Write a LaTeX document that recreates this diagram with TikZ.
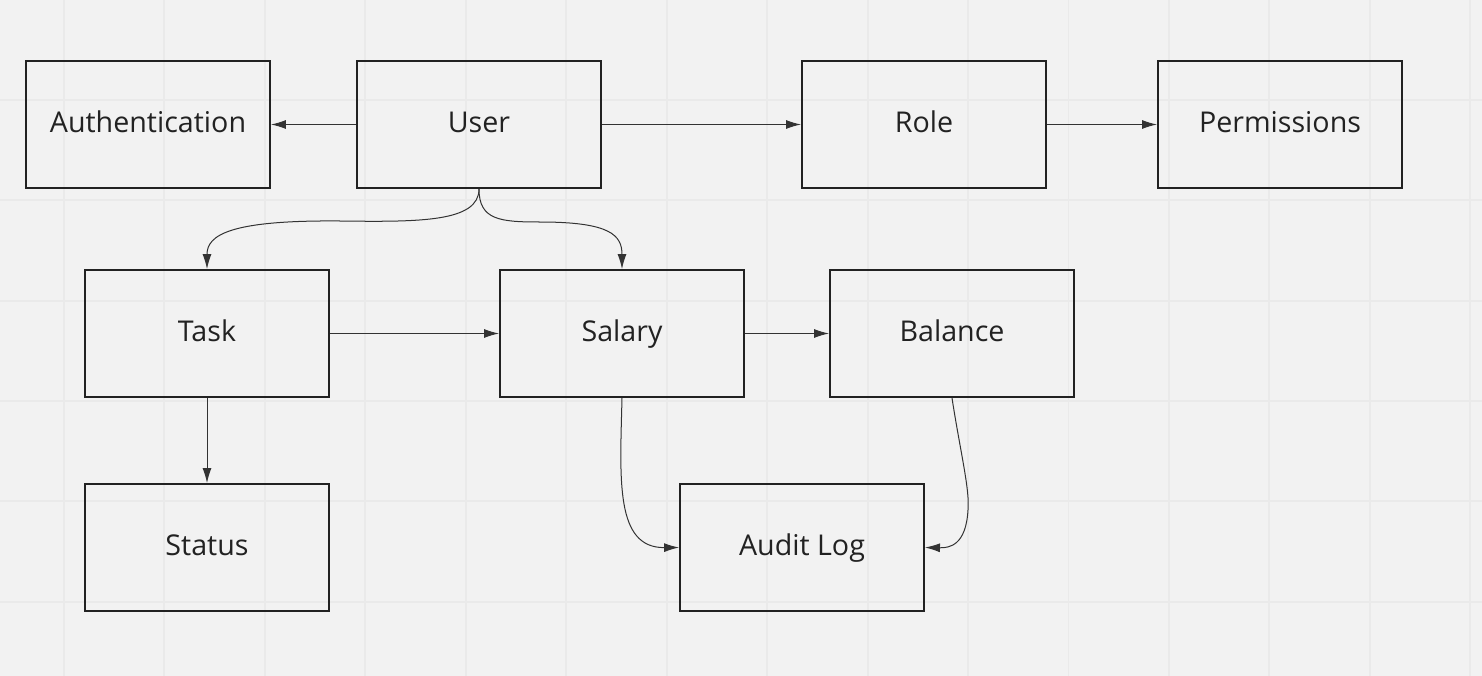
\documentclass[tikz,border=0pt]{standalone}
\usepackage{fontspec}
\setmainfont{Open Sans}
\usetikzlibrary{arrows.meta}
\definecolor{bg}{HTML}{F2F2F2}
\definecolor{gridline}{HTML}{EAEAEA}
\definecolor{ink}{HTML}{222222}
\definecolor{wire}{HTML}{333333}
\begin{document}
\begin{tikzpicture}[x=0.02cm,y=-0.02cm,
    every node/.style={draw=ink,line width=1.13pt,minimum width=4.88cm,minimum height=2.54cm,inner sep=0,
        text=ink,text height=12pt,text depth=2.4pt,font=\fontsize{16.3}{20}\selectfont},
    link/.style={draw=wire,line width=0.57pt,-{Latex[length=0.3cm,width=0.18cm]}}]
    \fill[bg] (0,0) rectangle (1482,676);
    \useasboundingbox (0,0) rectangle (1482,676);
    \foreach \k in {0,...,14} \draw[gridline,line width=1.1pt] (64+100.45*\k,0) -- (64+100.45*\k,676);
    \foreach \k in {1,...,6} \draw[gridline,line width=1.1pt] (0,-0.8+100.45*\k) -- (1482,-0.8+100.45*\k);
    \node at (148,124.5) (auth) {Authentication};
    \node at (479,124.5) (user) {User};
    \node at (924,124.5) (role) {Role};
    \node at (1280,124.5) (perm) {Permissions};
    \node at (207,333.5) (task) {Task};
    \node at (622,333.5) (salary) {Salary};
    \node at (952,333.5) (balance) {Balance};
    \node at (207,547.5) (status) {Status};
    \node at (802,547.5) (audit) {Audit Log};
    \draw[link] (user) -- (auth);
    \draw[link] (user) -- (role);
    \draw[link] (role) -- (perm);
    \draw[link] (task) -- (salary);
    \draw[link] (salary) -- (balance);
    \draw[link] (task) -- (status);
    \draw[link] (user.south) .. controls (479,222) and (420,222) .. (340,221) .. controls (230,220) and (207,235) .. (task.north);
    \draw[link] (user.south) .. controls (479,220) and (500,222) .. (540,222) .. controls (610,222) and (622,235) .. (salary.north);
    \draw[link] (salary.south) .. controls (620,480) and (615,548) .. (audit.west);
    \draw[link] (balance.south) .. controls (960,450) and (970,490) .. (968,510) .. controls (966,545) and (950,548) .. (audit.east);
\end{tikzpicture}
\end{document}
